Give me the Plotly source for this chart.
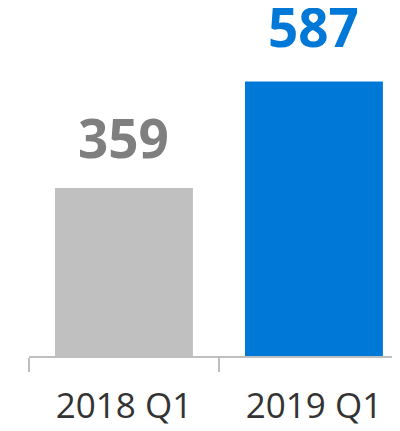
import plotly.graph_objects as go

categories = ["2018 Q1", "2019 Q1"]
values = [359, 587]
bar_colors = ["#c0c0c0", "#0078d7"]
label_colors = ["#7f7f7f", "#0078d7"]
label_shift = [12, 16]

fig = go.Figure()
fig.add_trace(go.Bar(x=categories, y=values, marker=dict(color=bar_colors, line=dict(width=0)),
                     hoverinfo="skip"))

for c, v, col, s in zip(categories, values, label_colors, label_shift):
    fig.add_annotation(x=c, y=v, text=f"<b>{v}</b>", showarrow=False, yanchor="bottom",
                       yshift=s, font=dict(family="Open Sans", size=53, color=col))

fig.update_layout(
    width=392, height=423,
    margin=dict(l=21, r=0, t=0, b=75),
    paper_bgcolor="white", plot_bgcolor="white",
    bargap=0.274, showlegend=False,
    xaxis=dict(type="category", range=[-0.5, 1.453], showline=True, linecolor="#bfbfbf", linewidth=2,
               ticks="outside", tickson="boundaries", ticklen=14, tickwidth=2, tickcolor="#bfbfbf",
               ticklabelstandoff=18,
               tickfont=dict(family="Open Sans", size=35, color="#333333"), showgrid=False),
    yaxis=dict(range=[0, 744], visible=False, showgrid=False, zeroline=False),
)
fig.write_html("out.html")
